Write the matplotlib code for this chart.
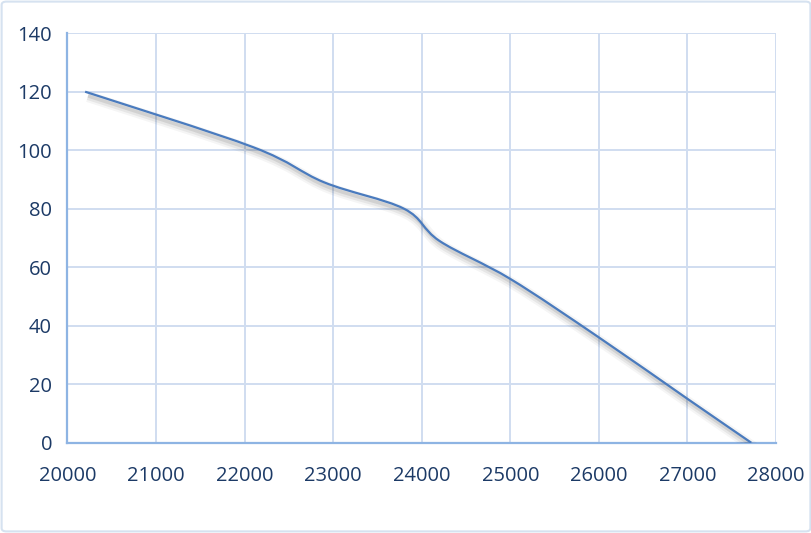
import numpy as np
import matplotlib.pyplot as plt
from matplotlib.path import Path
from matplotlib.patches import PathPatch, FancyBboxPatch
import matplotlib.patheffects as pe

# points
x_vals = [20200, 22100, 22900, 23800, 24200, 25000, 26000, 27000, 27720]
y_vals = [120, 101, 89, 80, 69, 56, 36, 15, 0]
x_ticks = [20000, 21000, 22000, 23000, 24000, 25000, 26000, 27000, 28000]
y_ticks = [0, 20, 40, 60, 80, 100, 120, 140]

txt_color = '#1C3A66'
grid_color = '#D0DDF0'
spine_color = '#8EB4E3'
line_color = '#4A7BBE'

plt.rcParams['font.family'] = ['Open Sans', 'DejaVu Sans']


def smooth_path(xs, ys):
    # excel-like smoothed line: cubic bezier, catmull-rom control points
    p = np.column_stack([xs, ys]).astype(float)
    n = len(p)
    verts = [p[0]]
    codes = [Path.MOVETO]
    for i in range(n - 1):
        prev = p[i - 1] if i > 0 else p[i]
        nxt = p[i + 2] if i + 2 < n else p[i + 1]
        c1 = p[i] + (p[i + 1] - prev) / 6
        c2 = p[i + 1] - (nxt - p[i]) / 6
        verts += [c1, c2, p[i + 1]]
        codes += [Path.CURVE4] * 3
    return Path(verts, codes)


fig = plt.figure(figsize=(8.12, 5.33), dpi=100)
ax = fig.add_axes([0.083, 0.1694, 0.8727, 0.7683])

fig.patches.append(FancyBboxPatch((0.002, 0.003), 0.996, 0.994,
                                  boxstyle='round,pad=0,rounding_size=0.006',
                                  transform=fig.transFigure, fill=False,
                                  edgecolor='#D6E2F0', linewidth=1.5))

patch = PathPatch(smooth_path(x_vals, y_vals), fill=False,
                  edgecolor=line_color, linewidth=1.6, capstyle='butt')
patch.set_path_effects([
    pe.SimpleLineShadow(offset=(2, -3.5), shadow_color='k', alpha=0.04, linewidth=8),
    pe.SimpleLineShadow(offset=(2, -3.5), shadow_color='k', alpha=0.06, linewidth=5),
    pe.SimpleLineShadow(offset=(2, -3), shadow_color='k', alpha=0.09, linewidth=2.5),
    pe.Normal(),
])
ax.add_patch(patch)

ax.set_xlim(20000, 28000)
ax.set_ylim(0, 140)
ax.set_xticks(x_ticks)
ax.set_yticks(y_ticks)
ax.grid(True, color=grid_color, linewidth=1.4)
ax.set_axisbelow(True)

for s in ['top', 'right']:
    ax.spines[s].set_visible(False)
for s in ['left', 'bottom']:
    ax.spines[s].set_color(spine_color)
    ax.spines[s].set_linewidth(1.6)
    ax.spines[s].set_zorder(0.6)

ax.tick_params(axis='both', length=0, labelsize=14.5, labelcolor=txt_color)
ax.tick_params(axis='y', pad=11)
ax.tick_params(axis='x', pad=17)

fig.savefig('out.png', dpi=100)
